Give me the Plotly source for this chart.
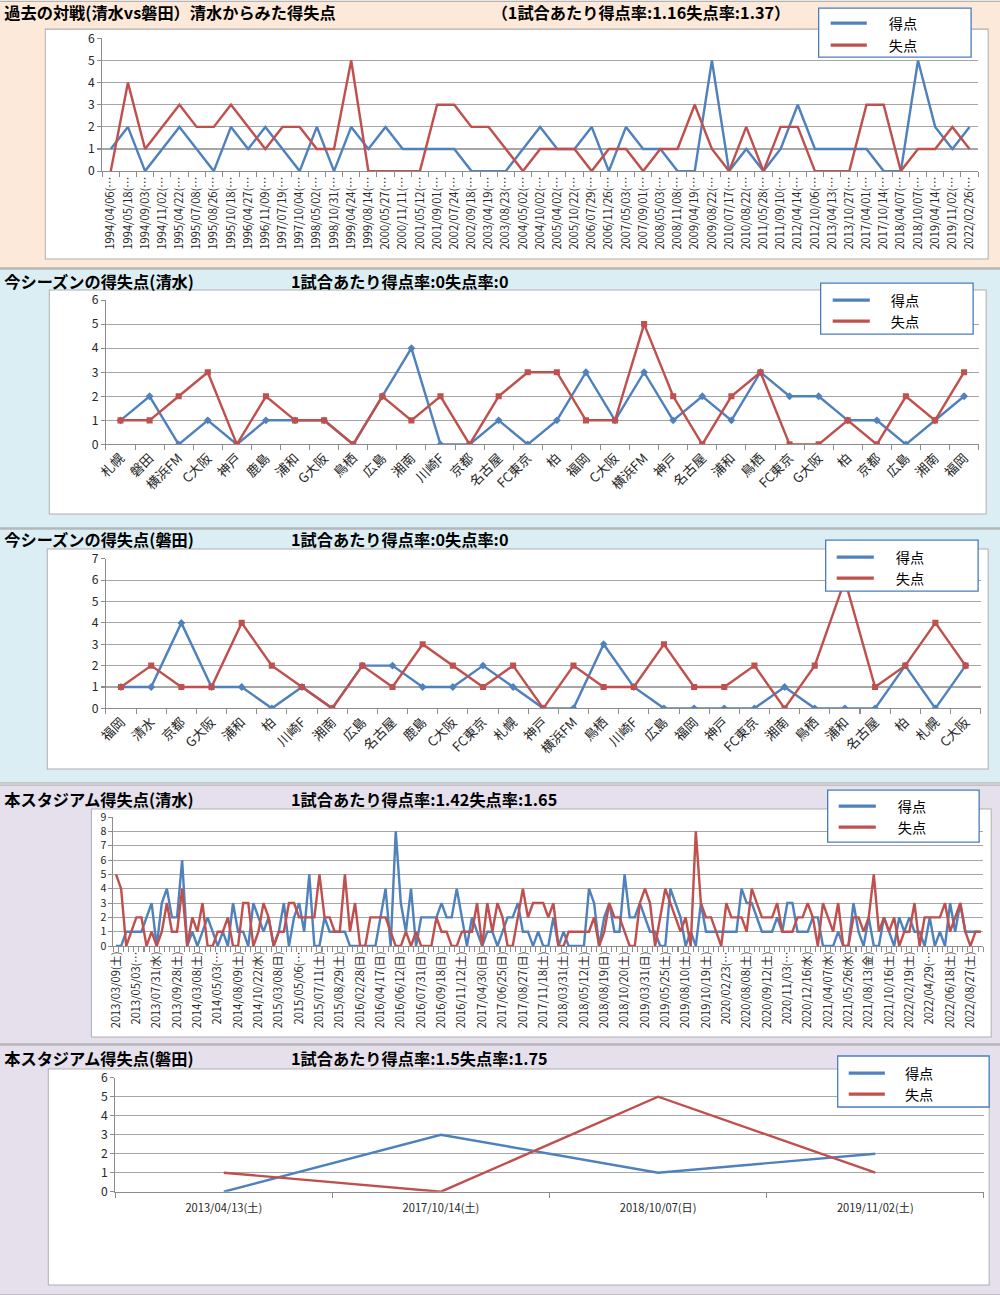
import plotly.graph_objects as go

W, H = 1000, 1295
BLUE = "#4F81BD"
RED = "#C0504D"
FONT = "Noto Sans CJK JP"
GRID = "#A6A6A6"
AXIS = "#8C8C8C"
TXT = "#262626"

# ---------------- data ----------------
# Panel 1: head-to-head (Shimizu vs Iwata)
h2h_dates = ["1994/04/06", "1994/05/18", "1994/09/03", "1994/11/02", "1995/04/22", "1995/07/08",
             "1995/08/26", "1995/10/18", "1996/04/27", "1996/11/09", "1997/07/19", "1997/10/04",
             "1998/05/02", "1998/10/31", "1999/04/24", "1999/08/14", "2000/05/27", "2000/11/11",
             "2001/05/12", "2001/09/01", "2002/07/24", "2002/09/18", "2003/04/19", "2003/08/23",
             "2004/05/02", "2004/10/02", "2005/04/02", "2005/10/22", "2006/07/29", "2006/11/26",
             "2007/05/03", "2007/09/01", "2008/05/03", "2008/11/08", "2009/04/19", "2009/08/22",
             "2010/07/17", "2010/08/22", "2011/05/28", "2011/09/10", "2012/04/14", "2012/10/06",
             "2013/04/13", "2013/10/27", "2017/04/01", "2017/10/14", "2018/04/07", "2018/10/07",
             "2019/04/14", "2019/11/02", "2022/02/26"]
h2h_for = [1, 2, 0, 1, 2, 1, 0, 2, 1, 2, 1, 0, 2, 0, 2, 1, 2, 1, 1, 1, 1, 0, 0, 0, 1, 2,
           1, 1, 2, 0, 2, 1, 1, 0, 0, 5, 0, 1, 0, 1, 3, 1, 1, 1, 1, 0, 0, 5, 2, 1, 2]
h2h_against = [0, 4, 1, 2, 3, 2, 2, 3, 2, 1, 2, 2, 1, 1, 5, 0, 0, 0, 0, 3, 3, 2, 2, 1, 0, 1,
               1, 1, 0, 1, 1, 0, 1, 1, 3, 1, 0, 2, 0, 2, 2, 0, 0, 0, 3, 3, 0, 1, 1, 2, 1]

# Panel 2: this season (Shimizu)
s_teams = ["札幌", "磐田", "横浜FM", "C大阪", "神戸", "鹿島", "浦和", "G大阪", "鳥栖", "広島",
           "湘南", "川崎F", "京都", "名古屋", "FC東京", "柏", "福岡", "C大阪", "横浜FM", "神戸",
           "名古屋", "浦和", "鳥栖", "FC東京", "G大阪", "柏", "京都", "広島", "湘南", "福岡"]
s_for = [1, 2, 0, 1, 0, 1, 1, 1, 0, 2, 4, 0, 0, 1, 0, 1, 3, 1, 3, 1, 2, 1, 3, 2, 2, 1, 1, 0, 1, 2]
s_against = [1, 1, 2, 3, 0, 2, 1, 1, 0, 2, 1, 2, 0, 2, 3, 3, 1, 1, 5, 2, 0, 2, 3, 0, 0, 1, 0, 2, 1, 3]

# Panel 3: this season (Iwata)
j_teams = ["福岡", "清水", "京都", "G大阪", "浦和", "柏", "川崎F", "湘南", "広島", "名古屋",
           "鹿島", "C大阪", "FC東京", "札幌", "神戸", "横浜FM", "鳥栖", "川崎F", "広島", "福岡",
           "神戸", "FC東京", "湘南", "鳥栖", "浦和", "名古屋", "柏", "札幌", "C大阪"]
j_for = [1, 1, 4, 1, 1, 0, 1, 0, 2, 2, 1, 1, 2, 1, 0, 0, 3, 1, 0, 0, 0, 0, 1, 0, 0, 0, 2, 0, 2]
j_against = [1, 2, 1, 1, 4, 2, 1, 0, 2, 1, 3, 2, 1, 2, 0, 2, 1, 1, 3, 1, 1, 2, 0, 2, 6, 1, 2, 4, 2]

# Panel 4: this stadium (Shimizu), 171 matches, labels every 4th match
st_labels = ["2013/03/09(土)", "2013/05/03(…", "2013/07/31(水)", "2013/09/28(土)", "2014/03/08(土)",
             "2014/05/03(…", "2014/08/09(土)", "2014/10/22(水)", "2015/03/08(日)", "2015/05/06(…",
             "2015/07/11(土)", "2015/08/29(土)", "2016/02/28(日)", "2016/04/17(日)", "2016/06/12(日)",
             "2016/07/31(日)", "2016/09/18(日)", "2016/11/12(土)", "2017/04/30(日)", "2017/06/25(日)",
             "2017/08/27(日)", "2017/11/18(土)", "2018/03/31(土)", "2018/05/12(土)", "2018/08/19(日)",
             "2018/10/20(土)", "2019/03/31(日)", "2019/05/25(土)", "2019/08/10(土)", "2019/10/19(土)",
             "2020/02/23(…", "2020/08/08(土)", "2020/09/12(土)", "2020/11/03(…", "2020/12/16(水)",
             "2021/04/07(水)", "2021/05/26(水)", "2021/08/13(金)", "2021/10/16(土)", "2022/02/19(土)",
             "2022/04/29(…", "2022/06/18(土)", "2022/08/27(土)"]
st_for = [0, 0, 1, 1, 1, 1, 2, 3, 0, 3,
          4, 2, 2, 6, 0, 1, 0, 1, 2, 1,
          0, 1, 0, 3, 1, 1, 0, 3, 2, 1,
          2, 0, 1, 3, 0, 2, 3, 1, 5, 0,
          0, 2, 1, 1, 1, 1, 0, 0, 0, 0,
          0, 0, 2, 4, 0, 8, 3, 1, 4, 0,
          2, 2, 2, 2, 3, 2, 2, 4, 2, 0,
          2, 1, 0, 1, 1, 0, 1, 2, 2, 3,
          1, 1, 0, 1, 0, 0, 2, 0, 1, 0,
          0, 0, 0, 4, 3, 0, 2, 3, 1, 1,
          5, 2, 2, 3, 2, 1, 1, 0, 0, 4,
          3, 2, 0, 1, 0, 3, 1, 1, 1, 1,
          1, 1, 1, 4, 3, 3, 2, 1, 1, 1,
          2, 1, 3, 3, 1, 1, 1, 2, 2, 0,
          0, 0, 1, 0, 0, 3, 1, 0, 2, 0,
          0, 2, 1, 0, 2, 1, 2, 1, 1, 0,
          2, 0, 1, 0, 3, 1, 3, 1, 1, 1,
          1]
st_against = [5, 4, 0, 1, 2, 2, 0, 1, 0, 1,
              3, 1, 1, 4, 0, 2, 1, 3, 0, 0,
              1, 1, 2, 0, 0, 3, 3, 0, 1, 3,
              2, 0, 1, 1, 3, 3, 2, 2, 2, 2,
              5, 2, 2, 1, 1, 5, 1, 3, 0, 0,
              2, 2, 2, 2, 1, 0, 0, 1, 0, 1,
              0, 0, 0, 2, 1, 1, 0, 0, 1, 1,
              1, 3, 0, 3, 1, 3, 2, 0, 0, 2,
              4, 2, 3, 3, 3, 2, 3, 0, 0, 1,
              1, 1, 1, 1, 2, 0, 1, 3, 2, 2,
              1, 0, 0, 3, 4, 3, 0, 2, 4, 3,
              2, 1, 2, 0, 8, 3, 2, 2, 1, 0,
              3, 2, 2, 2, 1, 4, 3, 2, 2, 2,
              3, 1, 1, 1, 2, 2, 3, 2, 0, 3,
              2, 1, 3, 0, 0, 2, 2, 1, 2, 5,
              1, 2, 1, 2, 0, 1, 1, 3, 0, 2,
              2, 2, 2, 3, 1, 2, 3, 1, 0, 1,
              1]
ST_LABEL_STEP = 4

# Panel 5: this stadium (Iwata)
ji_dates = ["2013/04/13(土)", "2017/10/14(土)", "2018/10/07(日)", "2019/11/02(土)"]
ji_for = [0, 3, 1, 2]
ji_against = [1, 0, 5, 1]

SERIES_NAMES = ["得点", "失点"]

# ---------------- layout helpers ----------------
def fx(px):
    return px / W


def fy(py):
    return 1 - py / H


fig = go.Figure()
layout = dict(width=W, height=H, margin=dict(l=0, r=0, t=0, b=0),
              paper_bgcolor="white", plot_bgcolor="rgba(0,0,0,0)",
              showlegend=False, font=dict(family=FONT, color=TXT))

panels = [
    dict(n=len(h2h_for), f=h2h_for, a=h2h_against,
         tv=list(range(len(h2h_dates))), tt=[d + "(…" for d in h2h_dates],
         ang=-90, tfs=11, yfs=12, ymax=6, px=(103.7, 977), py=(37.3, 170), markers=False, so=None),
    dict(n=len(s_for), f=s_for, a=s_against,
         tv=list(range(len(s_teams))), tt=s_teams,
         ang=-45, tfs=13, yfs=12, ymax=6, px=(107.5, 977.5), py=(299, 443.3), markers=True, so=None),
    dict(n=len(j_for), f=j_for, a=j_against,
         tv=list(range(len(j_teams))), tt=j_teams,
         ang=-45, tfs=13, yfs=12, ymax=7, px=(107.5, 979.5), py=(557.7, 707.3), markers=True, so=None),
    dict(n=len(st_for), f=st_for, a=st_against,
         tv=list(range(0, len(st_for), ST_LABEL_STEP))[:len(st_labels)], tt=st_labels,
         ang=-90, tfs=11, yfs=10.5, ymax=9, px=(115, 982), py=(816, 945), markers=False, so=None),
    dict(n=len(ji_for), f=ji_for, a=ji_against,
         tv=list(range(len(ji_dates))), tt=ji_dates,
         ang=0, tfs=11, yfs=12, ymax=6, px=(116.7, 982.7), py=(1076.7, 1190.7), markers=False, so=6),
]

for k, p in enumerate(panels, start=1):
    sfx = "" if k == 1 else str(k)
    xs = list(range(p["n"]))
    for vals, color, name, sym, msz in ((p["f"], BLUE, SERIES_NAMES[0], "diamond", 6),
                                         (p["a"], RED, SERIES_NAMES[1], "square", 6)):
        fig.add_trace(go.Scatter(
            x=xs, y=vals, name=name, xaxis="x" + sfx, yaxis="y" + sfx,
            mode="lines+markers" if p["markers"] else "lines",
            line=dict(color=color, width=2.4),
            marker=dict(symbol=sym, size=msz, color=color),
            hoverinfo="x+y+name"))
    xa = dict(
        domain=[fx(p["px"][0]), fx(p["px"][1])], anchor="y" + sfx,
        range=[-0.5, p["n"] - 0.5], tickmode="array", tickvals=p["tv"], ticktext=p["tt"],
        tickangle=p["ang"], tickfont=dict(size=p["tfs"], color=TXT, family=FONT),
        showgrid=False, zeroline=False, showline=True, linecolor=AXIS, linewidth=1,
        ticks="", ticklen=0,
        minor=dict(tickmode="array", tickvals=[i - 0.5 for i in range(p["n"] + 1)],
                   ticks="outside", ticklen=5, tickcolor=AXIS, tickwidth=1, showgrid=False),
        fixedrange=True)
    if p["so"]:
        xa["ticklabelstandoff"] = p["so"]
    layout["xaxis" + sfx] = xa
    layout["yaxis" + sfx] = dict(
        domain=[fy(p["py"][1]), fy(p["py"][0])], anchor="x" + sfx,
        range=[0, p["ymax"]], dtick=1, tick0=0,
        showgrid=True, gridcolor=GRID, gridwidth=1, zeroline=False,
        showline=True, linecolor=AXIS, linewidth=1, ticks="outside", ticklen=4,
        tickcolor=AXIS, tickfont=dict(size=p["yfs"], color=TXT, family=FONT), fixedrange=True)

# ---------------- decorations ----------------
shapes = []
sections = [(0, 267, "#FDE9D9"), (268, 527, "#DAEEF3"), (528, 782, "#DAEEF3"),
            (784, 1043, "#E5E0EC"), (1044, 1294, "#E5E0EC")]
for y0, y1, c in sections:
    shapes.append(dict(type="rect", xref="paper", yref="paper", layer="below",
                       x0=fx(0.5), x1=fx(999.5), y0=fy(y1), y1=fy(y0),
                       fillcolor=c, line=dict(color="#A0A0A0", width=1)))
boxes = [(47, 28, 987, 258), (51, 289, 985, 513), (49, 548, 987, 768),
         (93, 808, 990, 1036), (50, 1068, 988, 1284)]
for x0, y0, x1, y1 in boxes:
    shapes.append(dict(type="rect", xref="paper", yref="paper", layer="below",
                       x0=fx(x0), x1=fx(x1), y0=fy(y1), y1=fy(y0),
                       fillcolor="white", line=dict(color="#B0B0B0", width=1)))

annotations = []
titles = [
    (11, "過去の対戦(清水vs磐田）清水からみた得失点", 490, "（1試合あたり得点率:1.16失点率:1.37）"),
    (280, "今シーズンの得失点(清水)", 290, "1試合あたり得点率:0失点率:0"),
    (538, "今シーズンの得失点(磐田)", 290, "1試合あたり得点率:0失点率:0"),
    (797, "本スタジアム得失点(清水)", 290, "1試合あたり得点率:1.42失点率:1.65"),
    (1057, "本スタジアム得失点(磐田)", 290, "1試合あたり得点率:1.5失点率:1.75"),
]
for ty, t1, x2, t2 in titles:
    for xx, tt in ((4, t1), (x2, t2)):
        annotations.append(dict(text="<b>" + tt + "</b>", xref="paper", yref="paper",
                                x=fx(xx), y=fy(ty), xanchor="left", yanchor="middle",
                                showarrow=False, font=dict(size=16, color="black", family=FONT)))

# legend boxes: (x0, y0, x1, y1, line x0, line x1, text x, row1 y, row2 y)
legends = [(818, 7, 970, 56, 830, 866, 902, 22, 44),
           (820, 282, 972, 333, 832, 869, 904, 299, 320),
           (825, 539, 977, 590, 836, 873, 909, 556, 577),
           (827, 789, 978, 841, 838, 875, 911, 805, 826),
           (837, 1055, 988, 1106, 848, 884, 918, 1072, 1093)]
for x0, y0, x1, y1, lx0, lx1, tx, r1, r2 in legends:
    shapes.append(dict(type="rect", xref="paper", yref="paper", layer="above",
                       x0=fx(x0), x1=fx(x1), y0=fy(y1), y1=fy(y0),
                       fillcolor="white", line=dict(color="#4A7EBB", width=1.3)))
    for name, col, yy in zip(SERIES_NAMES, (BLUE, RED), (r1, r2)):
        shapes.append(dict(type="line", xref="paper", yref="paper", layer="above",
                           x0=fx(lx0), x1=fx(lx1), y0=fy(yy), y1=fy(yy),
                           line=dict(color=col, width=3.2)))
        annotations.append(dict(text=name, xref="paper", yref="paper", x=fx(tx), y=fy(yy),
                                xanchor="center", yanchor="middle", showarrow=False,
                                font=dict(size=14, color="black", family=FONT)))

layout["shapes"] = shapes
layout["annotations"] = annotations
fig.update_layout(**layout)

PAGE_JS = ("document.body.style.margin='0';document.body.style.padding='0';"
           "document.documentElement.style.overflow='hidden';"
           "document.body.style.transformOrigin='0 0';"
           "document.body.style.transform='translate(-12px,-9px) scale(1.0132)';")
fig.write_html("out.html", config={"displayModeBar": False}, post_script=PAGE_JS)
